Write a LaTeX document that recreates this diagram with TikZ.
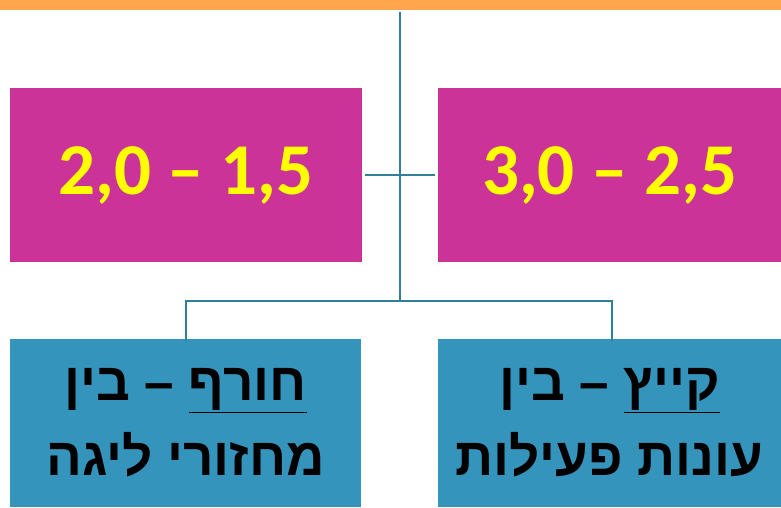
\documentclass[tikz,border=0pt]{standalone}
\usepackage{fontspec}
\TeXXeTstate=1
\newfontfamily\numfont{Carlito}
\newfontfamily\hebfont[Script=Hebrew]{Liberation Sans}
\definecolor{topbar}{HTML}{FFA64D}
\definecolor{magbox}{HTML}{CC3399}
\definecolor{bluebox}{HTML}{3594BC}
\definecolor{conn}{HTML}{31809A}
\definecolor{numyellow}{HTML}{FFFF00}
\newcommand{\hebul}[1]{\setlength{\fboxsep}{0pt}\underline{#1}}
\tikzset{
  numbox/.style={fill=magbox, draw=none, inner sep=0pt, minimum width=352pt, minimum height=174pt,
    font=\numfont\bfseries\fontsize{73}{80}\selectfont, text=numyellow},
  hebbox/.style={fill=bluebox, draw=none, inner sep=0pt, minimum width=352pt, minimum height=168pt,
    font=\hebfont\bfseries\fontsize{53}{66}\selectfont, text=black, align=center},
  link/.style={draw=conn, line width=2pt}
}
\begin{document}
\begin{tikzpicture}[x=1pt,y=-1pt]
\useasboundingbox (0,0) rectangle (781,507);
\fill[topbar] (0,0) rectangle (781,10);
\node[numbox] (lnum) at (186,175) {2,0 – 1,5};
\node[numbox, minimum width=343pt] (rnum) at (609.5,175) {3,0 – 2,5};
\node[hebbox, minimum width=351pt] (lheb) at (185.5,423) {\beginR\hebul{חורף} – בין\endR\\[9pt]\beginR מחזורי ליגה\endR};
\node[hebbox, minimum width=343pt] (rheb) at (609.5,423) {\beginR\hebul{קייץ} – בין\endR\\[9pt]\beginR עונות פעילות\endR};
\coordinate (top) at (400,12);
\coordinate (mid) at (400,301);
\draw[link] (top) -- (mid);
\draw[link] (lnum.east) ++(3pt,0) -- ([xshift=-3pt]rnum.west);
\draw[link] (lheb.north) ++(0,-2pt) |- (mid) -| ([yshift=-2pt]rheb.north -| 612,0);
\end{tikzpicture}
\end{document}
